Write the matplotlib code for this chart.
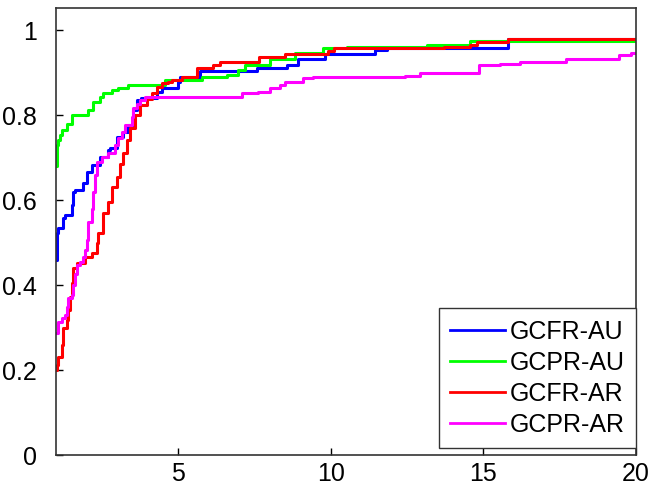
import matplotlib
matplotlib.use("Agg")
import matplotlib.pyplot as plt
from matplotlib.ticker import FuncFormatter

# step curves
blue_x = [1, 1.02, 1.08, 1.23, 1.3, 1.51, 1.56, 1.62, 1.9, 2.0, 2.17, 2.44, 2.7,
          2.77, 2.99, 3.2, 3.36, 3.53, 3.65, 3.8, 4.3, 4.47, 5.0, 5.07, 5.72,
          7.58, 8.56, 8.93, 9.8, 11.46, 11.84, 15.82, 20]
blue_y = [0.459, 0.522, 0.534, 0.557, 0.565, 0.588, 0.62, 0.624, 0.64, 0.667,
          0.682, 0.702, 0.718, 0.722, 0.749, 0.76, 0.776, 0.812, 0.835, 0.841,
          0.855, 0.863, 0.878, 0.89, 0.904, 0.91, 0.918, 0.933, 0.943, 0.953,
          0.958, 0.979, 0.979]

green_x = [1, 1.04, 1.08, 1.13, 1.19, 1.35, 1.51, 2.06, 2.22, 2.44, 2.54, 2.83,
           3.03, 3.36, 4.57, 5.78, 6.6, 6.97, 7.2, 8.0, 8.84, 9.76, 10.53,
           13.15, 14.57, 20]
green_y = [0.68, 0.729, 0.741, 0.753, 0.765, 0.78, 0.80, 0.812, 0.831, 0.843,
           0.852, 0.859, 0.863, 0.871, 0.882, 0.89, 0.894, 0.906, 0.918, 0.933,
           0.945, 0.957, 0.961, 0.966, 0.974, 0.974]

red_x = [1, 1.02, 1.08, 1.19, 1.24, 1.35, 1.4, 1.46, 1.51, 1.57, 1.68, 1.95,
         2.17, 2.33, 2.39, 2.55, 2.71, 2.83, 2.99, 3.1, 3.21, 3.32, 3.43, 3.59,
         3.75, 3.97, 4.14, 4.3, 4.47, 4.68, 4.79, 5.12, 5.61, 6.15, 6.38, 7.64,
         8.5, 9.9, 10.1, 13.7, 14.57, 14.8, 15.8, 20]
red_y = [0.2, 0.212, 0.231, 0.259, 0.298, 0.318, 0.341, 0.372, 0.404, 0.439,
         0.451, 0.467, 0.475, 0.498, 0.522, 0.569, 0.596, 0.631, 0.655, 0.686,
         0.71, 0.741, 0.769, 0.8, 0.824, 0.839, 0.851, 0.867, 0.875, 0.879,
         0.882, 0.89, 0.91, 0.918, 0.924, 0.937, 0.943, 0.951, 0.957, 0.961,
         0.965, 0.972, 0.979, 0.979]

magenta_x = [1, 1.08, 1.19, 1.3, 1.35, 1.4, 1.51, 1.57, 1.62, 1.68, 1.79, 1.9,
             1.95, 2.0, 2.06, 2.17, 2.22, 2.28, 2.33, 2.5, 2.71, 2.93, 3.04,
             3.15, 3.26, 3.48, 3.53, 3.65, 3.75, 3.92, 7.09, 7.63, 8.02, 8.34,
             8.51, 9.1, 9.43, 12.44, 12.93, 14.84, 15.56, 16.2, 17.69, 19.43,
             19.82, 20]
magenta_y = [0.286, 0.314, 0.322, 0.329, 0.349, 0.369, 0.376, 0.4, 0.427, 0.447,
             0.455, 0.467, 0.482, 0.506, 0.549, 0.58, 0.62, 0.659, 0.69, 0.702,
             0.71, 0.729, 0.745, 0.761, 0.776, 0.796, 0.816, 0.827, 0.835, 0.842,
             0.851, 0.855, 0.863, 0.871, 0.879, 0.888, 0.89, 0.892, 0.898, 0.918,
             0.921, 0.925, 0.933, 0.941, 0.947, 0.947]

labels = ["GCFR-AU", "GCPR-AU", "GCFR-AR", "GCPR-AR"]
colors = ["#0000ff", "#00ff00", "#ff0000", "#ff00ff"]
xticks = [5, 10, 15, 20]
yticks = [0, 0.2, 0.4, 0.6, 0.8, 1]

plt.rcParams['font.family'] = ['Liberation Sans', 'DejaVu Sans']

fig = plt.figure(figsize=(6.49, 4.88), dpi=100)
ax = fig.add_axes([0.0863, 0.0676, 0.8937, 0.916])

series = [(blue_x, blue_y), (green_x, green_y), (red_x, red_y),
          (magenta_x, magenta_y)]
for (xs, ys), lab, col in zip(series, labels, colors):
    ax.plot(xs, ys, drawstyle='steps-post', color=col, lw=2.2, label=lab)

ax.set_xlim(1, 20)
ax.set_ylim(0, 1.052)
ax.set_xticks(xticks)
ax.set_yticks(yticks)
ax.yaxis.set_major_formatter(FuncFormatter(lambda v, p: '%g' % v))
ax.tick_params(direction='in', length=5, width=1, labelsize=18,
               colors='black')
ax.tick_params(axis='x', pad=5)
ax.tick_params(axis='y', pad=14)
for s in ax.spines.values():
    s.set_color('#333333')
    s.set_linewidth(1.2)

leg = ax.legend(loc='lower right', bbox_to_anchor=(1.0, 0.016),
                borderaxespad=0, fontsize=18, handlelength=2.2,
                handletextpad=0.2, labelspacing=0.28, fancybox=False,
                framealpha=1, edgecolor='#333333', borderpad=0.45)
leg.get_frame().set_linewidth(1.0)
for line in leg.get_lines():
    line.set_linewidth(2)

fig.savefig("out.png", dpi=100)
